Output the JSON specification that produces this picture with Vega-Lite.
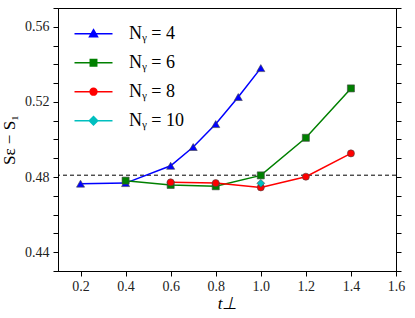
{
  "$schema": "https://vega.github.io/schema/vega-lite/v6.json",
  "width": 338,
  "height": 263,
  "autosize": {"type": "none"},
  "padding": {"left": 58, "top": 8, "right": 19, "bottom": 47},
  "background": "white",
  "config": {
    "view": {"stroke": "black", "strokeWidth": 1},
    "font": "Liberation Serif",
    "axis": {
      "grid": false,
      "domainColor": "black",
      "tickColor": "black",
      "labelColor": "#222",
      "labelFont": "Liberation Serif",
      "labelFontSize": 14,
      "labelOverlap": false,
      "tickSize": 5,
      "titleFont": "Liberation Serif",
      "titleFontWeight": "normal",
      "titleColor": "black"
    }
  },
  "data": {
    "values": [
      {"t": 0.2, "S": 0.4765, "Ny": 4},
      {"t": 0.4, "S": 0.4768, "Ny": 4},
      {"t": 0.6, "S": 0.486, "Ny": 4},
      {"t": 0.7, "S": 0.496, "Ny": 4},
      {"t": 0.8, "S": 0.5082, "Ny": 4},
      {"t": 0.9, "S": 0.5226, "Ny": 4},
      {"t": 1.0, "S": 0.538, "Ny": 4},
      {"t": 0.4, "S": 0.4781, "Ny": 6},
      {"t": 0.6, "S": 0.4758, "Ny": 6},
      {"t": 0.8, "S": 0.4751, "Ny": 6},
      {"t": 1.0, "S": 0.4809, "Ny": 6},
      {"t": 1.2, "S": 0.5009, "Ny": 6},
      {"t": 1.4, "S": 0.5272, "Ny": 6},
      {"t": 0.6, "S": 0.4772, "Ny": 8},
      {"t": 0.8, "S": 0.4768, "Ny": 8},
      {"t": 1.0, "S": 0.4745, "Ny": 8},
      {"t": 1.2, "S": 0.4802, "Ny": 8},
      {"t": 1.4, "S": 0.4926, "Ny": 8},
      {"t": 1.0, "S": 0.4767, "Ny": 10}
    ]
  },
  "layer": [
    {
      "data": {"values": [{"ref": 0.481}]},
      "mark": {"type": "rule", "color": "black", "strokeWidth": 1, "strokeDash": [4, 3]},
      "encoding": {
        "y": {
          "field": "ref", "type": "quantitative",
          "scale": {"domain": [0.43, 0.57], "nice": false, "zero": false},
          "axis": {
            "orient": "right", "labels": false, "title": null,
            "values": [0.43,0.44,0.45,0.46,0.47,0.48,0.49,0.50,0.51,0.52,0.53,0.54,0.55,0.56,0.57]
          }
        }
      }
    },
    {
      "mark": {"type": "line", "strokeWidth": 1.5},
      "encoding": {
        "x": {
          "field": "t", "type": "quantitative",
          "scale": {"domain": [0.1, 1.6], "nice": false, "zero": false},
          "axis": {
            "title": "t⊥",
            "titleFontSize": 17,
            "titleFontStyle": "italic",
            "titlePadding": 2,
            "labelPadding": 3,
            "labelOverlap": false,
            "labelFlush": false,
            "values": [0.2,0.3,0.4,0.5,0.6,0.7,0.8,0.9,1.0,1.1,1.2,1.3,1.4,1.5,1.6],
            "labelExpr": "(round(datum.value*10) % 2) == 0 ? format(datum.value, '.1f') : ''"
          }
        },
        "y": {
          "field": "S", "type": "quantitative",
          "axis": {
            "orient": "left",
            "title": "Sε − S₁",
            "titleFontSize": 17,
            "titlePadding": 6,
            "labelPadding": 4,
            "values": [0.43,0.44,0.45,0.46,0.47,0.48,0.49,0.50,0.51,0.52,0.53,0.54,0.55,0.56,0.57],
            "labelExpr": "round(datum.value*100) % 4 == 0 ? format(datum.value, '.2f') : ''"
          }
        },
        "color": {
          "field": "Ny", "type": "nominal",
          "scale": {"domain": [4, 6, 8, 10], "range": ["#0000ff", "#008000", "#ff0000", "#00bfbf"]},
          "legend": {
            "orient": "none",
            "legendX": 15.5,
            "legendY": 5.7,
            "title": null,
            "padding": 0,
            "symbolSize": 1444,
            "rowPadding": -11.5,
            "labelOffset": 15.5,
            "labelFont": "Liberation Serif",
            "labelFontSize": 18,
            "labelColor": "black",
            "labelExpr": "'Nᵧ = ' + datum.label",
            "encode": {
              "symbols": {
                "update": {
                  "shape": {"signal": "datum.value == 4 ? 'M-1,0H1M0,-0.21L0.21,0.16L-0.21,0.16Z' : datum.value == 6 ? 'M-1,0H1M-0.17,-0.17H0.17V0.17H-0.17Z' : datum.value == 8 ? 'M-1,0H1M0.18,0A0.18,0.18 0 1,1 -0.18,0A0.18,0.18 0 1,1 0.18,0Z' : 'M-1,0H1M0,-0.22L0.22,0L0,0.22L-0.22,0Z'"},
                  "stroke": {"signal": "scale('color', datum.value)"},
                  "fill": {"signal": "scale('color', datum.value)"},
                  "strokeWidth": {"value": 1.5},
                  "opacity": {"value": 1},
                  "fillOpacity": {"value": 1}
                }
              }
            }
          }
        },
        "detail": {"field": "Ny", "type": "nominal"}
      }
    },
    {
      "transform": [{"filter": {"field": "Ny", "equal": 4}}],
      "mark": {"type": "point", "shape": "triangle-up", "filled": true, "opacity": 1, "size": 65, "stroke": "#444", "strokeWidth": 0.6},
      "encoding": {
        "x": {"field": "t", "type": "quantitative"},
        "y": {"field": "S", "type": "quantitative", "axis": null},
        "color": {"field": "Ny", "type": "nominal"}
      }
    },
    {
      "transform": [{"filter": {"field": "Ny", "equal": 6}}],
      "mark": {"type": "point", "shape": "square", "filled": true, "opacity": 1, "size": 50, "stroke": "#444", "strokeWidth": 0.6},
      "encoding": {
        "x": {"field": "t", "type": "quantitative"},
        "y": {"field": "S", "type": "quantitative", "axis": null},
        "color": {"field": "Ny", "type": "nominal"}
      }
    },
    {
      "transform": [{"filter": {"field": "Ny", "equal": 8}}],
      "mark": {"type": "point", "shape": "circle", "filled": true, "opacity": 1, "size": 50, "stroke": "#444", "strokeWidth": 0.6},
      "encoding": {
        "x": {"field": "t", "type": "quantitative"},
        "y": {"field": "S", "type": "quantitative", "axis": null},
        "color": {"field": "Ny", "type": "nominal"}
      }
    },
    {
      "transform": [{"filter": {"field": "Ny", "equal": 10}}],
      "mark": {"type": "point", "shape": "diamond", "filled": true, "opacity": 1, "size": 60, "stroke": "#444", "strokeWidth": 0.6},
      "encoding": {
        "x": {"field": "t", "type": "quantitative"},
        "y": {"field": "S", "type": "quantitative", "axis": null},
        "color": {"field": "Ny", "type": "nominal"}
      }
    }
  ],
  "resolve": {"axis": {"y": "independent"}}
}
